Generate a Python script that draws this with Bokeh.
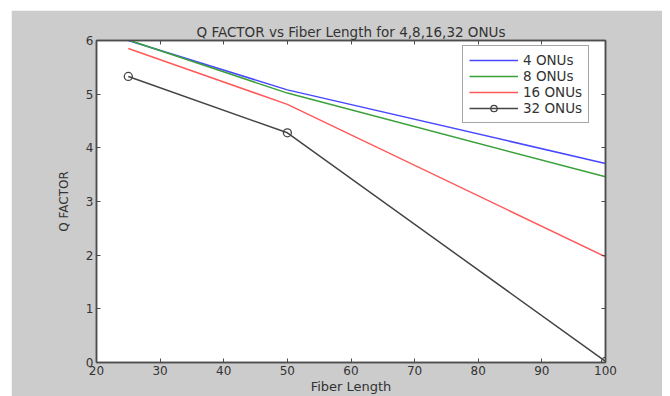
from bokeh.plotting import figure
from bokeh.models import LinearAxis, Range1d, Spacer, Legend, FixedTicker
from bokeh.layouts import column, row
from bokeh.embed import file_html
from bokeh.resources import INLINE

fiber_length = [25, 50, 100]
q_4onu = [6.0, 5.08, 3.71]
q_8onu = [6.01, 5.02, 3.46]
q_16onu = [5.85, 4.81, 1.97]
q_32onu = [5.33, 4.28, 0.02]

x_ticks = [20, 30, 40, 50, 60, 70, 80, 90, 100]
y_ticks = [0, 1, 2, 3, 4, 5, 6]

GREY = "#cccccc"
AX = "#4d4d4d"
TXT = "#333333"
FONT = "DejaVu Sans"

p = figure(width=651, height=386, output_backend="svg", toolbar_location=None,
           x_range=Range1d(20, 100), y_range=Range1d(0, 6),
           min_border_left=85, min_border_right=57, min_border_top=30, min_border_bottom=34,
           background_fill_color="white", border_fill_color=GREY,
           outline_line_color=AX, outline_line_width=1.5)

p.title.text = "Q FACTOR vs Fiber Length for 4,8,16,32 ONUs"
p.title.align = "center"
p.title.text_font = FONT
p.title.text_font_style = "normal"
p.title.text_font_size = "13.5px"
p.title.text_color = TXT
p.title.standoff = 2

p.grid.visible = False

def style_axis(ax, ticks, labels=True):
    ax.ticker = FixedTicker(ticks=ticks)
    ax.major_tick_in = 4
    ax.major_tick_out = 0
    ax.minor_tick_in = 0
    ax.minor_tick_out = 0
    ax.axis_line_color = AX
    ax.axis_line_width = 1.5
    ax.major_tick_line_color = AX
    ax.major_label_text_font = FONT
    ax.major_label_text_font_size = "12px"
    ax.major_label_text_color = TXT
    ax.major_label_standoff = 3
    if not labels:
        ax.major_label_overrides = {t: "" for t in ticks}
        ax.major_label_standoff = 0
    ax.axis_label_text_font = FONT
    ax.axis_label_text_font_size = "13px"
    ax.axis_label_text_font_style = "normal"
    ax.axis_label_text_color = TXT

style_axis(p.xaxis[0], x_ticks)
style_axis(p.yaxis[0], y_ticks)
p.xaxis[0].axis_label = "Fiber Length"
p.yaxis[0].axis_label = "Q FACTOR"
p.yaxis[0].axis_label_text_font_size = "12px"
p.xaxis[0].axis_label_standoff = 1
p.yaxis[0].axis_label_standoff = 12

top_ax = LinearAxis()
style_axis(top_ax, x_ticks, labels=False)
p.add_layout(top_ax, "above")
right_ax = LinearAxis()
style_axis(right_ax, y_ticks, labels=False)
p.add_layout(right_ax, "right")

r4 = p.line(fiber_length, q_4onu, line_color="#4848ff", line_width=1.5)
r8 = p.line(fiber_length, q_8onu, line_color="#3aa03a", line_width=1.5)
r16 = p.line(fiber_length, q_16onu, line_color="#ff5a5a", line_width=1.5)
r32 = p.line(fiber_length, q_32onu, line_color="#454545", line_width=1.5)
r32m = p.scatter(fiber_length, q_32onu, marker="circle", size=8, fill_color=None,
                 line_color="#454545", line_width=1.3)

legend = Legend(items=[("4 ONUs", [r4]), ("8 ONUs", [r8]), ("16 ONUs", [r16]),
                       ("32 ONUs", [r32, r32m])],
                location=(366, 239))
legend.margin = 0
legend.padding = 6
legend.spacing = 0
legend.label_height = 16
legend.glyph_height = 16
legend.glyph_width = 49
legend.label_standoff = 5
legend.label_text_font = FONT
legend.label_text_font_size = "13.5px"
legend.label_text_color = TXT
legend.border_line_color = AX
legend.border_line_width = 1.2
legend.background_fill_color = "white"
legend.background_fill_alpha = 1.0
p.add_layout(legend, "center")

layout = column(Spacer(height=10), row(Spacer(width=11), p, spacing=0), spacing=0)

open("out.html", "w").write(file_html(layout, INLINE))
